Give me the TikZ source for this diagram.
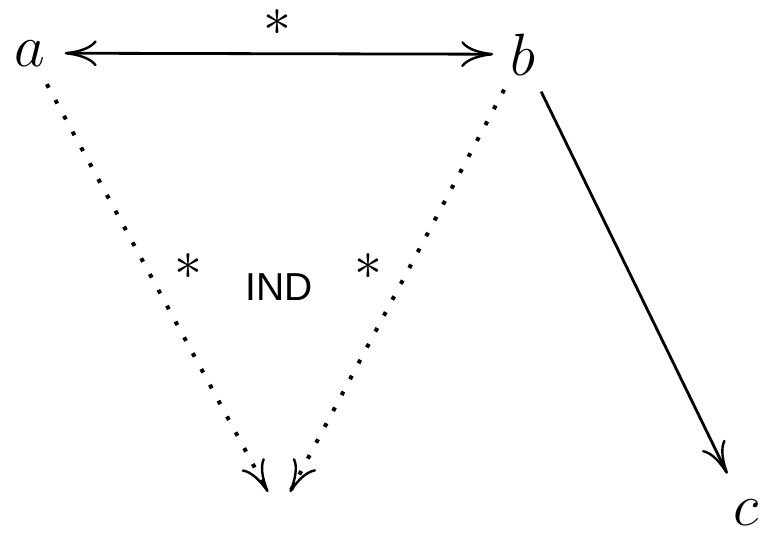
\documentclass[tikz,border=0pt]{standalone}
\usepackage{fontspec}
\newfontfamily\indfont{Liberation Sans}
\usetikzlibrary{arrows.meta}
\newcommand{\biglbl}[1]{\scalebox{1.2}{$#1$}}
\newcommand{\bigast}{\smash{\scalebox{1.12}{$*$}}}
\begin{document}
\begin{tikzpicture}[x=0.5pt,y=-0.5pt,
  lbl/.style={inner sep=4.5pt, font=\fontsize{24.88}{30}\selectfont},
  ast/.style={inner sep=0pt, anchor=base, font=\fontsize{24.88}{30}\selectfont},
  solidline/.style={line width=1.4pt},
  dotline/.style={line width=2pt, dash pattern=on 2pt off 7pt},
  >={Computer Modern Rightarrow[length=16pt,width=13pt,line width=1.2pt]}
]
\useasboundingbox (0,0) rectangle (776,541);
\node[lbl, anchor=base] (a) at (30,66) {\biglbl{a}};
\node[lbl, anchor=base] (b) at (523,75) {\biglbl{b}};
\node[lbl, anchor=base] (c) at (746,525) {\biglbl{c}};
\node[ast] (s1) at (277,35) {\bigast};
\node[ast] (s2) at (188,279) {\bigast};
\node[ast] (s3) at (368,279) {\bigast};
\node[inner sep=0pt, font=\indfont\fontsize{19.5}{22}\selectfont] (ind) at (279,287) {IND};
\coordinate (t1) at (268,492);
\coordinate (t2) at (290,492);
\draw[solidline, <->, shorten <=5pt, shorten >=4pt] (a) -- (b);
\draw[dotline, ->, shorten <=5pt] (a) -- (t1);
\draw[dotline, ->, shorten <=3pt] (b) -- (t2);
\draw[solidline, ->, shorten <=4pt, shorten >=9pt] (b) -- (c);
\end{tikzpicture}
\end{document}
